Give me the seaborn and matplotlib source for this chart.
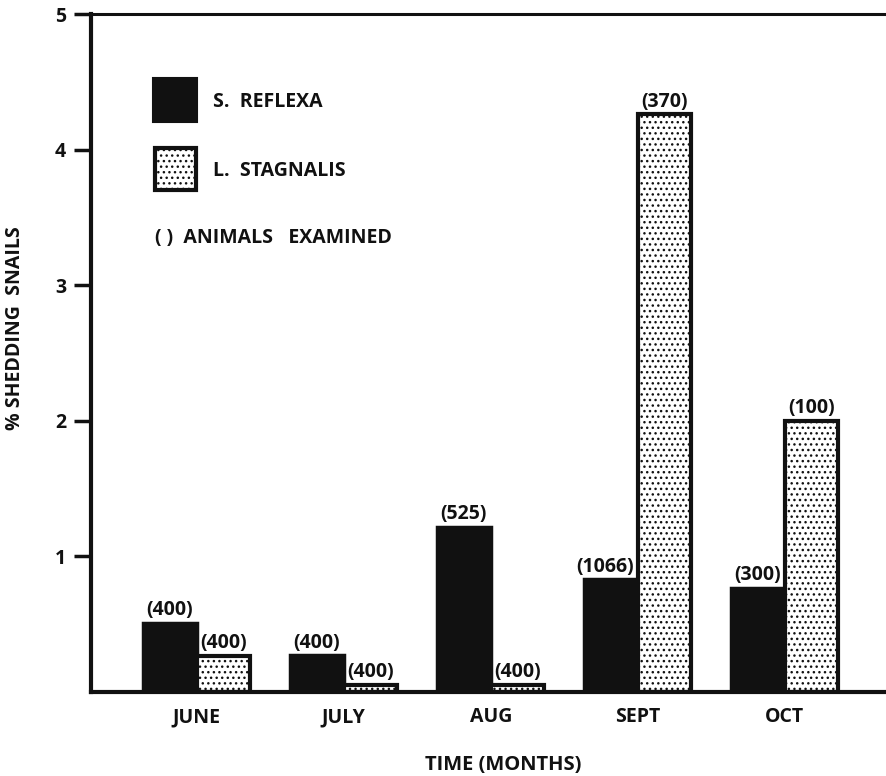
import matplotlib
matplotlib.use("Agg")
import matplotlib.pyplot as plt
import seaborn as sns
import pandas as pd
from matplotlib.patches import Rectangle

months = ["JUNE", "JULY", "AUG", "SEPT", "OCT"]
species = ["S. REFLEXA", "L. STAGNALIS"]
reflexa_pct = [0.51, 0.27, 1.22, 0.83, 0.77]
stagnalis_pct = [0.265, 0.05, 0.05, 4.26, 2.0]
reflexa_n = [400, 400, 525, 1066, 300]
stagnalis_n = [400, 400, 400, 370, 100]
y_ticks = [1, 2, 3, 4, 5]

df = pd.DataFrame({
    "month": months * 2,
    "species": [species[0]] * 5 + [species[1]] * 5,
    "pct": reflexa_pct + stagnalis_pct,
})

INK = "#111111"
HATCH = "..."
FS = 14

sns.set_theme(style="white")
plt.rcParams["font.family"] = ["Open Sans", "DejaVu Sans"]
plt.rcParams["hatch.linewidth"] = 1.0
plt.rcParams["hatch.color"] = INK

W, H = 886, 776
fig = plt.figure(figsize=(W / 100, H / 100), dpi=100)
ax = fig.add_axes([91 / W, 1 - 692 / H, 795 / W, 678 / H])

sns.barplot(data=df, x="month", y="pct", hue="species", order=months,
            hue_order=species, palette=[INK, "white"], width=0.73,
            gap=0, edgecolor=INK, linewidth=2.5, ax=ax, legend=False,
            saturation=1)

black_c, stip_c = ax.containers[0], ax.containers[1]
for p in stip_c:
    p.set_hatch(HATCH)
    p.set_facecolor("white")
    p.set_edgecolor(INK)
    p.set_linewidth(3)

black_labels = ax.bar_label(black_c, labels=[f"({n})" for n in reflexa_n],
                            padding=2, fontsize=FS, fontweight="bold",
                            color=INK, zorder=5)
ax.bar_label(stip_c, labels=[f"({n})" for n in stagnalis_n], padding=2,
             fontsize=FS, fontweight="bold", color=INK, zorder=5)
# the wide "(1066)" label sits slightly left so it clears the neighbouring bar
for ann, n in zip(black_labels, reflexa_n):
    if n >= 1000:
        ann.xyann = (-4, ann.xyann[1])

ax.set_xlim(-0.72, 4.69)
ax.set_ylim(0, 5)
ax.set_yticks(y_ticks)
ax.set_yticklabels([str(t) for t in y_ticks], fontsize=FS, fontweight="bold")
ax.tick_params(axis="y", left=True, length=12, width=2.5, color=INK,
               pad=6, labelcolor=INK)
ax.tick_params(axis="x", bottom=False, length=0, pad=11, labelsize=FS,
               labelcolor=INK)
for lab in ax.get_xticklabels():
    lab.set_fontweight("bold")

for s in ["left", "bottom", "top"]:
    ax.spines[s].set_visible(True)
    ax.spines[s].set_color(INK)
ax.spines["left"].set_linewidth(3)
ax.spines["bottom"].set_linewidth(3)
ax.spines["top"].set_linewidth(2.2)
ax.spines["right"].set_visible(False)

ax.set_xlabel("TIME (MONTHS)", fontsize=FS + 0.5, fontweight="bold", color=INK)
ax.xaxis.set_label_coords(0.518, -0.093)
ax.set_ylabel("% SHEDDING  SNAILS", fontsize=FS, fontweight="bold", color=INK)
ax.yaxis.set_label_coords(-0.083, 0.536)

# legend key (drawn in axes-fraction coordinates)
ax.add_patch(Rectangle((0.078, 0.8407), 0.0553, 0.0649, transform=ax.transAxes,
                       facecolor=INK, edgecolor=INK, linewidth=1.5, clip_on=False))
ax.add_patch(Rectangle((0.0805, 0.7404), 0.0516, 0.062, transform=ax.transAxes,
                       facecolor="white", edgecolor=INK, hatch=HATCH,
                       linewidth=3, clip_on=False))
ax.text(0.153, 0.870, "S.  REFLEXA", transform=ax.transAxes, ha="left",
        va="center", fontsize=FS, fontweight="bold", color=INK)
ax.text(0.153, 0.768, "L.  STAGNALIS", transform=ax.transAxes, ha="left",
        va="center", fontsize=FS, fontweight="bold", color=INK)
ax.text(0.0805, 0.670, "( )  ANIMALS   EXAMINED", transform=ax.transAxes,
        ha="left", va="center", fontsize=FS, fontweight="bold", color=INK)

fig.savefig("out.png", dpi=100)
